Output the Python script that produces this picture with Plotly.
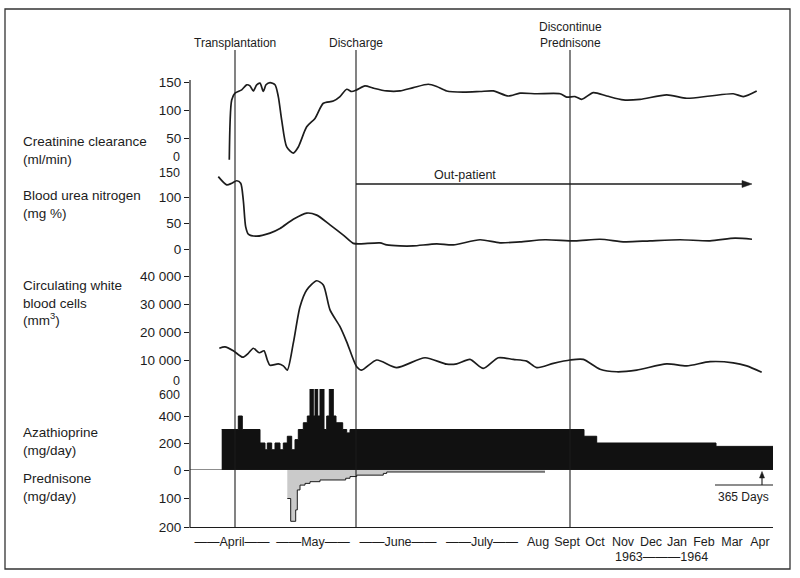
import plotly.graph_objects as go

W, H = 800, 578

# ---------------- data (x = position on the chart's time scale) ----------------
creat_x = [229.3, 231.7, 235, 241.7, 246.7, 250, 253.3, 256.7, 260, 263.3, 266, 270, 275, 278.3,
           281.7, 286.7, 293.3, 298.3, 306.7, 315, 323.3, 333.3, 340, 346.7, 351.7, 356.7, 365,
           373.3, 386.7, 400, 413.3, 428.3, 436.7, 446.7, 463.3, 480, 493.3, 508.3, 520, 536.7,
           560, 566.7, 575, 581.7, 593.3, 606.7, 623.3, 640, 666.7, 686.7, 710, 733.3, 743.3, 756.7]
creat_y = [11, 118, 130, 136, 145, 143, 134, 145, 148, 133, 145, 149, 145, 124,
           82, 34, 23, 34, 70, 85, 112, 116, 124, 137, 133, 136, 143,
           139, 134, 134, 140, 146, 142, 134, 132, 133, 134, 125, 130, 129,
           129, 123, 124, 119, 131, 125, 118, 119, 127, 121, 125, 129, 124, 134]

bun_x = [218.3, 226.7, 231.7, 236.7, 240.7, 243.3, 245.7, 248.3, 256.7, 270, 280, 293.3, 306.7,
         316.7, 330, 343.3, 353.3, 360, 380, 386.7, 400, 413.3, 436.7, 453.3, 480, 500, 520, 545,
         575, 600, 625, 650, 680, 710, 735, 752]
bun_y = [141, 125, 128, 133, 128, 95, 43, 29, 25, 31, 40, 58, 70,
         66, 47, 27, 11, 10, 12, 8, 6, 6, 10, 8, 18, 12, 14, 18,
         16, 19, 14, 16, 18, 16, 21, 19]

wbc_x = [219.3, 225, 233.3, 242.7, 248.3, 253.3, 259.3, 264, 267.3, 270, 278.3, 283.3, 287.3,
         293.3, 300, 306.7, 316.7, 323.3, 330, 340, 346.7, 356.7, 361.7, 376.7, 396.7, 425,
         446.7, 456.7, 470, 483.3, 498.3, 513.3, 526.7, 536.7, 553.3, 570, 583.3, 600, 616.7,
         636.7, 666.7, 686.7, 710, 733.3, 746.7, 761.7]
wbc_y = [14200, 14700, 13300, 11000, 12400, 14200, 12600, 13300, 10000, 8100, 8600, 7900, 6400,
         16000, 29000, 35000, 38300, 36800, 27900, 21900, 16500, 7600, 6400, 10000, 7300, 10800,
         8500, 8600, 10200, 7000, 10800, 10200, 9600, 7300, 8800, 10000, 10200, 6700, 5800,
         6400, 8600, 7900, 9400, 9000, 7900, 5600]

aza_x = [221.7, 238.3, 242.3, 260, 265, 267.3, 271.7, 275, 280, 283.3, 287.3, 291.7, 295, 298.3,
         303.3, 307.3, 310, 313.3, 315, 317.7, 320, 324, 326.7, 329.3, 333.3, 336, 342.7, 346.7,
         350, 584, 596.7, 716, 773]
aza_y = [300, 400, 300, 200, 150, 200, 150, 200, 150, 200, 250, 150, 225, 300,
         350, 400, 600, 400, 600, 400, 600, 300, 400, 600, 400, 350, 300, 275,
         300, 250, 200, 175, 175]

pred_x = [287.3, 290.7, 295.7, 297.3, 300, 305, 310, 320, 345.7, 350, 356.7, 383.3, 386.7, 545]
pred_y = [100, 180, 140, 70, 53, 47, 41, 35, 29, 23, 18, 12, 7, 7]

events_x = [235, 356, 570]
event_labels = ["Transplantation", "Discharge", "Discontinue<br>Prednisone"]

month_pos = [232, 313, 398, 482, 538, 567, 595, 623, 651, 677, 704, 732, 760]
month_labels = ["——April——", "——May——", "——June——", "——July——", "Aug", "Sept", "Oct",
                "Nov", "Dec", "Jan", "Feb", "Mar", "Apr"]

outpatient_start, outpatient_end = 356, 752
days365_x = 762

creat_ticks = [50, 100, 150]
bun_ticks = [0, 50, 100]
wbc_ticks = [10000, 20000, 30000, 40000]
wbc_ticktext = ["10 000", "20 000", "30 000", "40 000"]
aza_ticks = [0, 200, 400]
pred_ticks = [100, 200]

# ---------------- helpers ----------------
def fx(x):
    return x / W

def fy(y):
    return 1 - y / H

INK = "#1c1c1c"
FONT = "Liberation Sans, Arial, Helvetica, sans-serif"
TICK_SIZE = 13.5

fig = go.Figure()

fig.add_trace(go.Scatter(x=pred_x, y=pred_y, yaxis="y5", mode="lines",
                         line=dict(shape="hv", color=INK, width=1),
                         fill="tozeroy", fillcolor="#cacaca", hoverinfo="skip"))
fig.add_trace(go.Scatter(x=aza_x, y=aza_y, yaxis="y4", mode="lines",
                         line=dict(shape="hv", color="#111", width=1),
                         fill="tozeroy", fillcolor="#111", hoverinfo="skip"))
for xs, ys, ax in [(creat_x, creat_y, "y"), (bun_x, bun_y, "y2"), (wbc_x, wbc_y, "y3")]:
    fig.add_trace(go.Scatter(x=xs, y=ys, yaxis=ax, mode="lines",
                             line=dict(shape="spline", smoothing=0.7, color=INK, width=1.7),
                             hoverinfo="skip"))

yax_common = dict(showgrid=False, zeroline=False, showline=False, ticks="outside", ticklen=5,
                  tickwidth=1, tickcolor=INK, tickfont=dict(size=TICK_SIZE, color=INK, family=FONT),
                  anchor="x", fixedrange=True)

fig.update_layout(
    width=W, height=H, margin=dict(l=0, r=0, t=0, b=0, pad=0, autoexpand=False),
    paper_bgcolor="white", plot_bgcolor="rgba(0,0,0,0)", showlegend=False,
    font=dict(family=FONT, color=INK, size=12),
    xaxis=dict(domain=[fx(190), fx(773)], range=[190, 773], showgrid=False, zeroline=False,
               showline=True, linecolor=INK, linewidth=1.2, anchor="y5",
               tickvals=month_pos, ticktext=month_labels, ticks="outside", ticklen=3,
               tickcolor="rgba(0,0,0,0)", tickangle=0,
               tickfont=dict(size=12.5, color=INK, family=FONT), fixedrange=True),
    yaxis=dict(domain=[fy(166), fy(166 - 160 * 84 / 150)], range=[0, 160], tickvals=creat_ticks, **yax_common),
    yaxis2=dict(domain=[fy(249), fy(172)], range=[0, 150], tickvals=bun_ticks, **yax_common),
    yaxis3=dict(domain=[fy(388), fy(276)], range=[0, 40000], tickvals=wbc_ticks,
                ticktext=wbc_ticktext, **yax_common),
    yaxis4=dict(domain=[fy(470), fy(389)], range=[0, 600], tickvals=aza_ticks, **yax_common),
    yaxis5=dict(domain=[fy(527), fy(470)], range=[200, 0], tickvals=pred_ticks, **yax_common),
)

shapes = []
# outer frame
shapes.append(dict(type="rect", xref="paper", yref="paper", x0=fx(5), x1=fx(790), y0=fy(569), y1=fy(9),
                   line=dict(color="#333", width=1.3)))
# left axis line
shapes.append(dict(type="line", xref="paper", yref="paper", x0=fx(190), x1=fx(190), y0=fy(528), y1=fy(80),
                   line=dict(color=INK, width=1.2)))
# zero line of drug panel
shapes.append(dict(type="line", xref="paper", yref="y4", x0=fx(190), x1=fx(773), y0=0, y1=0,
                   line=dict(color=INK, width=1.2)))
# event lines
for ex in events_x:
    shapes.append(dict(type="line", xref="x", yref="paper", x0=ex, x1=ex, y0=fy(528), y1=fy(50),
                       line=dict(color=INK, width=1.1)))
# out-patient arrow (shaft + head)
ya = fy(184)
shapes.append(dict(type="line", xref="x", yref="paper", x0=outpatient_start, x1=outpatient_end - 6,
                   y0=ya, y1=ya, line=dict(color=INK, width=1.5)))
shapes.append(dict(type="path", xref="x", yref="paper",
                   path=f"M {outpatient_end - 10},{fy(180.5)} L {outpatient_end},{ya} L {outpatient_end - 10},{fy(187.5)} Z",
                   fillcolor=INK, line=dict(color=INK, width=0.5)))
# 365 days base line and arrow
shapes.append(dict(type="line", xref="x", yref="paper", x0=715, x1=773, y0=fy(485), y1=fy(485),
                   line=dict(color=INK, width=1.1)))
shapes.append(dict(type="line", xref="x", yref="paper", x0=days365_x, x1=days365_x, y0=fy(485), y1=fy(477),
                   line=dict(color=INK, width=1.1)))
shapes.append(dict(type="path", xref="x", yref="paper",
                   path=f"M {days365_x - 2.5},{fy(478)} L {days365_x},{fy(471.5)} L {days365_x + 2.5},{fy(478)} Z",
                   fillcolor=INK, line=dict(color=INK, width=0.5)))
fig.update_layout(shapes=shapes)

ann = []
# left side panel labels
left_labels = [("Creatinine clearance<br>(ml/min)", 150.5),
               ("Blood urea nitrogen<br>(mg %)", 204.5),
               ("Circulating white<br>blood cells<br>(mm<sup>3</sup>)", 302.5),
               ("Azathioprine<br>(mg/day)", 442),
               ("Prednisone<br>(mg/day)", 487)]
for txt, yy in left_labels:
    ann.append(dict(text=txt, xref="paper", yref="paper", x=fx(21), y=fy(yy), xanchor="left",
                    yanchor="middle", align="left", showarrow=False, font=dict(size=13.5)))
# boundary tick labels (no tick marks)
for txt, ax, val, shift in [("0", "y", 0, 9), ("150", "y2", 150, -1), ("0", "y3", 0, 7), ("600", "y4", 600, -6)]:
    ann.append(dict(text=txt, xref="paper", yref=ax, x=fx(182), y=val, xanchor="right",
                    yanchor="middle", yshift=shift, showarrow=False, font=dict(size=12.5)))
# event labels
for ex, lab in zip(events_x, event_labels):
    ann.append(dict(text=lab, xref="x", yref="paper", x=ex, y=fy(52), xanchor="center",
                    yanchor="bottom", showarrow=False, font=dict(size=12)))
ann.append(dict(text="Out-patient", xref="x", yref="paper", x=465, y=fy(175), xanchor="center",
                yanchor="middle", showarrow=False, font=dict(size=12.5)))
ann.append(dict(text="365 Days", xref="x", yref="paper", x=743, y=fy(497), xanchor="center",
                yanchor="middle", showarrow=False, font=dict(size=12)))
# years
ann.append(dict(text="1963———1964", xref="x", yref="paper", x=661, y=fy(556.5), xanchor="center",
                yanchor="middle", showarrow=False, font=dict(size=12.5)))
fig.update_layout(annotations=ann)

post = ("document.documentElement.style.overflow='hidden';"
        "document.body.style.margin='0';document.body.style.overflow='hidden';"
        "var d=document.querySelector('.plotly-graph-div');"
        "d.style.position='fixed';d.style.left='0px';d.style.top='0px';")
fig.write_html("out.html", post_script=post,
               config={"displayModeBar": False, "staticPlot": True})
